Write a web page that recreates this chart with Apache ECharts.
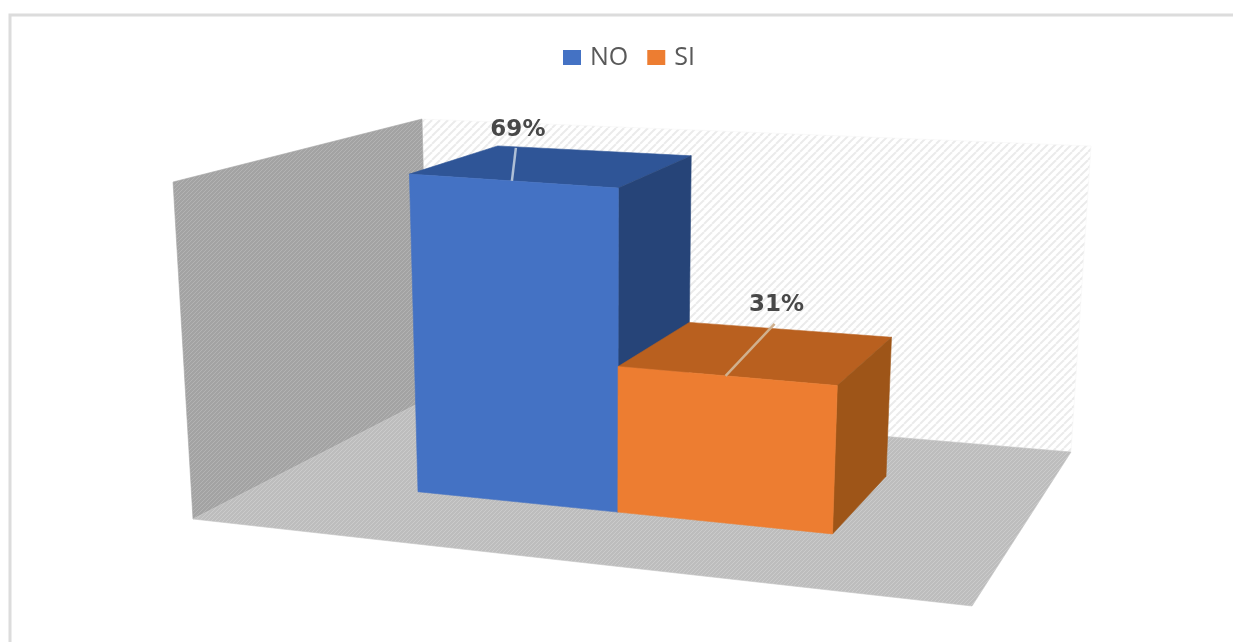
<!DOCTYPE html>
<html><head><meta charset="utf-8">
<style>html,body{margin:0;padding:0;background:#fff}#c{width:1233px;height:642px}</style>
<script src="https://cdn.jsdelivr.net/npm/echarts@6/dist/echarts.min.js"></script>
</head><body><div id="c"></div>
<script>
// data
const categories = ['Respuesta'];
const seriesNames = ['NO', 'SI'];
const noValues = [0.69];
const siValues = [0.31];
const axisMax = 0.705;

// layout of the 3D box: floor quad (front-left, front-right, back-right, back-left),
// wall height at those corners, and the vanishing point of the vertical edges
const FLOOR = [[193,519],[972,606],[1071,452],[429,398]];
const HEIGHTS = [337,358,306,279];
const VP = [608,7524];
const BAR_EDGE_OFFSETS = [-0.2826,0.0017,0.285], W_FRONT = 0.30, W_BACK = 0.70;

function homography(q){
  const [p0,p1,p2,p3]=q;
  const dx1=p1[0]-p2[0],dx2=p3[0]-p2[0],sx=p0[0]-p1[0]+p2[0]-p3[0];
  const dy1=p1[1]-p2[1],dy2=p3[1]-p2[1],sy=p0[1]-p1[1]+p2[1]-p3[1];
  const det=dx1*dy2-dx2*dy1;
  const g=(sx*dy2-dx2*sy)/det,h=(dx1*sy-sx*dy1)/det;
  const a=p1[0]-p0[0]+g*p1[0],b=p3[0]-p0[0]+h*p3[0];
  const d=p1[1]-p0[1]+g*p1[1],e=p3[1]-p0[1]+h*p3[1];
  return (u,w)=>{const k=g*u+h*w+1;return [(a*u+b*w+p0[0])/k,(d*u+e*w+p0[1])/k];};
}
const floorH=homography(FLOOR);
function project(u,w,v){
  const f=floorH(u,w);
  const front=HEIGHTS[0]+(HEIGHTS[1]-HEIGHTS[0])*u, back=HEIGHTS[3]+(HEIGHTS[2]-HEIGHTS[3])*u;
  const h=(front+(back-front)*w)*v;
  const lean=(f[0]-VP[0])/(VP[1]-f[1]);
  return [f[0]+lean*h,f[1]-h];
}
function tile(size,bg,fg,lw,dx,dy){
  const c=document.createElement('canvas');c.width=c.height=size;
  const x=c.getContext('2d');x.fillStyle=bg;x.fillRect(0,0,size,size);
  x.strokeStyle=fg;x.lineWidth=lw;
  for(let i=-2;i<=2;i++){x.beginPath();x.moveTo(i*size+0,size);x.lineTo(i*size+dx,size-dy);x.stroke();}
  return {image:c,repeat:'repeat'};
}
const backFill=tile(8,'#ffffff','#ebebeb',2,8,8);
const leftFill=tile(4,'#a3a3a3','#b3b3b3',1,4,4);
const floorFill=tile(4,'#bdbdbd','#cbcbcb',1,4,4);

function poly(points,fill,stroke){
  return {type:'polygon',shape:{points},style:{fill,stroke:stroke||fill,lineWidth:stroke?0.6:0}};
}
function wallsItem(){
  return {type:'group',children:[
    poly([project(0,1,0),project(1,1,0),project(1,1,1),project(0,1,1)],backFill,'#f6f6f6'),
    poly([project(0,0,0),project(0,1,0),project(0,1,1),project(0,0,1)],leftFill,'#a8a8a8'),
    poly([project(0,0,0),project(1,0,0),project(1,1,0),project(0,1,0)],floorFill,'#c4c4c4')
  ]};
}
function barItem(idx,colors,labelOffset,lineOffset,lineColor){
  return function(params,api){
    const cs=params.coordSys;
    const pTop=api.coord([api.value(0),api.value(1)]);
    const pBase=api.coord([api.value(0),0]);
    const cu=(pTop[0]-cs.x)/cs.width;
    const u0=cu+BAR_EDGE_OFFSETS[idx],u1=cu+BAR_EDGE_OFFSETS[idx+1];
    const v=(pBase[1]-pTop[1])/cs.height;
    const a=project(u0,W_FRONT,0),b=project(u1,W_FRONT,0),c=project(u1,W_FRONT,v),d=project(u0,W_FRONT,v);
    const e=project(u0,W_BACK,v),f=project(u1,W_BACK,v),g=project(u1,W_BACK,0);
    const anchor=project((u0+u1)/2,W_FRONT,v);
    const start=[anchor[0]+lineOffset[0],anchor[1]+lineOffset[1]];
    return {type:'group',children:[
      poly([d,c,f,e],colors[1],colors[1]),
      poly([c,b,g,f],colors[2],colors[2]),
      poly([a,b,c,d],colors[0],colors[0]),
      {type:'line',shape:{x1:anchor[0],y1:anchor[1],x2:start[0],y2:start[1]},style:{stroke:lineColor,lineWidth:2.5}},
      {type:'text',style:{text:Math.round(api.value(1)*100)+'%',x:anchor[0]+labelOffset[0],y:anchor[1]+labelOffset[1],
        align:'center',verticalAlign:'middle',fill:'#484848',font:'bold 23px "DejaVu Sans"'}}
    ]};
  };
}
const chart=echarts.init(document.getElementById('c'),null,{renderer:'canvas'});
chart.setOption({
  animation:false,
  backgroundColor:'#ffffff',
  graphic:[{type:'polyline',silent:true,shape:{points:[[10,642],[10,15],[1233,15]]},style:{stroke:'#dcdcdc',lineWidth:3,fill:null}}],
  legend:{data:seriesNames,left:558,top:40,itemWidth:18,itemHeight:15,itemGap:19,icon:'rect',
    textStyle:{fontFamily:'"Open Sans"',fontSize:25,color:'#595959',padding:[0,0,0,4]}},
  grid:{left:173,right:142,top:118,bottom:36},
  xAxis:{type:'category',data:categories,show:false},
  yAxis:{type:'value',min:0,max:axisMax,show:false},
  series:[
    {type:'custom',name:'walls',silent:true,z:1,data:[[0,0]],renderItem:wallsItem},
    {type:'custom',name:seriesNames[0],z:2,itemStyle:{color:'#4472C4'},encode:{x:0,y:1},
      data:noValues.map((v,i)=>[i,v]),
      renderItem:barItem(0,['#4472C4','#2F5597','#264478'],[6,-51],[4,-33],'#aebfd6')},
    {type:'custom',name:seriesNames[1],z:3,itemStyle:{color:'#ED7D31'},encode:{x:0,y:1},
      data:siValues.map((v,i)=>[i,v]),
      renderItem:barItem(1,['#ED7D31','#B9601F','#9E5518'],[51,-71],[49,-52],'#d0b08e')}
  ]
});
</script></body></html>
